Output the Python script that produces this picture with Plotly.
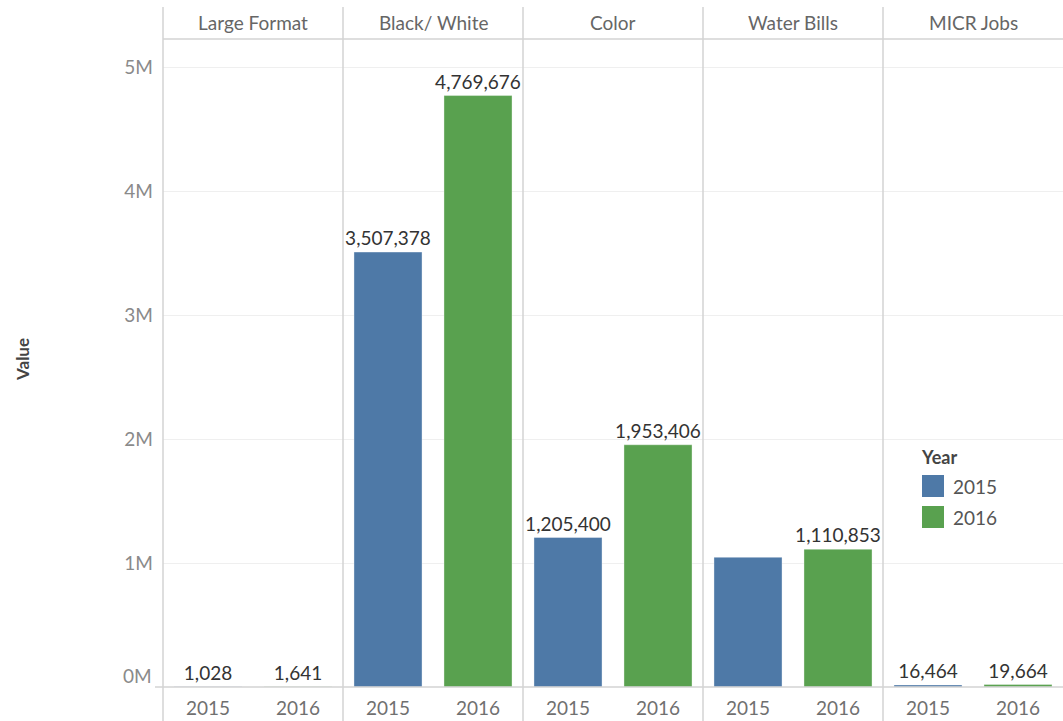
import plotly.graph_objects as go
from plotly.subplots import make_subplots

# Print volumes by job type and year
job_types = ["Large Format", "Black/ White", "Color", "Water Bills", "MICR Jobs"]
years = ["2015", "2016"]
values_2015 = [1028, 3507378, 1205400, 1046000, 16464]
values_2016 = [1641, 4769676, 1953406, 1110853, 19664]
labels_2015 = ["1,028", "3,507,378", "1,205,400", "", "16,464"]
labels_2016 = ["1,641", "4,769,676", "1,953,406", "1,110,853", "19,664"]
y_ticks = [1_000_000, 2_000_000, 3_000_000, 4_000_000, 5_000_000]
y_tick_text = ["1M", "2M", "3M", "4M", "5M"]

BLUE = "#4e79a7"
GREEN = "#59a14f"
FONT = "Lato"
FS = 19

W, H = 1063, 721
L, R, T, B = 163, 0, 39, 34
PW, PH = W - L - R, H - T - B


def px_x(px):
    return (px - L) / PW


def px_y(py):
    return (H - B - py) / PH


n = len(job_types)
fig = make_subplots(rows=1, cols=n, horizontal_spacing=0, shared_yaxes=True)

for i in range(n):
    for yr, vals, labs, col in ((years[0], values_2015, labels_2015, BLUE),
                                (years[1], values_2016, labels_2016, GREEN)):
        fig.add_trace(
            go.Bar(
                x=[yr], y=[vals[i]], text=[labs[i]],
                textposition="outside", cliponaxis=False, constraintext="none",
                textfont=dict(family=FONT, size=FS, color="#333333"),
                marker=dict(color=col, line=dict(width=0.6, color="rgba(255,255,255,0.6)")),
                showlegend=False, hoverinfo="x+y",
            ),
            row=1, col=i + 1,
        )
    fig.update_xaxes(
        type="category", categoryorder="array", categoryarray=years,
        range=[-0.5, 1.5], showgrid=False, zeroline=False, showline=False,
        ticks="", ticklabelstandoff=8,
        tickfont=dict(family=FONT, size=FS, color="#707070"),
        row=1, col=i + 1,
    )

y_top = 5_000_000 * PH / (H - B - 67)
fig.update_yaxes(
    range=[0, y_top], tickvals=y_ticks, ticktext=y_tick_text,
    showgrid=True, gridcolor="#efefef", gridwidth=1,
    zeroline=False, showline=False, ticks="",
    tickfont=dict(family=FONT, size=FS, color="#8a8a8a"),
)
for c in range(2, n + 1):
    fig.update_yaxes(showticklabels=False, row=1, col=c)
fig.update_yaxes(ticklabelstandoff=9, row=1, col=1)

shapes = []
line_col = "#d3d3d3"
# panel separators
for i in range(n):
    x = i / n
    shapes.append(dict(type="line", xref="paper", yref="paper",
                       x0=x, x1=x, y0=px_y(H), y1=px_y(7),
                       line=dict(color=line_col, width=1.5)))
# header rule and baseline
shapes.append(dict(type="line", xref="paper", yref="paper", x0=0, x1=1,
                   y0=1, y1=1, line=dict(color=line_col, width=1.5)))
shapes.append(dict(type="line", xref="paper", yref="paper", x0=px_x(155), x1=1,
                   y0=0, y1=0, line=dict(color=line_col, width=1.5)))

annotations = []


def note(text, x, y, size, color, xanchor="center", **kw):
    annotations.append(dict(text=text, xref="paper", yref="paper", x=x, y=y,
                            xanchor=xanchor, yanchor="middle", showarrow=False,
                            font=dict(family=FONT, size=size, color=color), **kw))


# facet headers
for i, name in enumerate(job_types):
    note(name, (i + 0.5) / n, px_y(23), FS, "#666666")
# zero tick label, lifted above the baseline
note("0M", px_x(154), px_y(675), FS, "#8a8a8a", xanchor="right")
# y-axis title
note("<b>Value</b>", px_x(22), px_y(360), 17, "#444444", textangle=-90)

# legend
note("<b>Year</b>", px_x(919), px_y(457), 18, "#444444", xanchor="left")
for yr, col, cy in ((years[0], BLUE, 486), (years[1], GREEN, 517)):
    shapes.append(dict(type="rect", xref="paper", yref="paper",
                       x0=px_x(922), x1=px_x(944), y0=px_y(cy + 11), y1=px_y(cy - 11),
                       fillcolor=col, line=dict(width=0)))
    note(yr, px_x(951), px_y(cy), FS, "#555555", xanchor="left")

fig.update_layout(
    width=W, height=H,
    margin=dict(l=L, r=R, t=T, b=B, pad=0),
    paper_bgcolor="white", plot_bgcolor="white",
    bargap=0.244, barmode="group",
    shapes=shapes, annotations=annotations,
)

fig.write_html("out.html")
